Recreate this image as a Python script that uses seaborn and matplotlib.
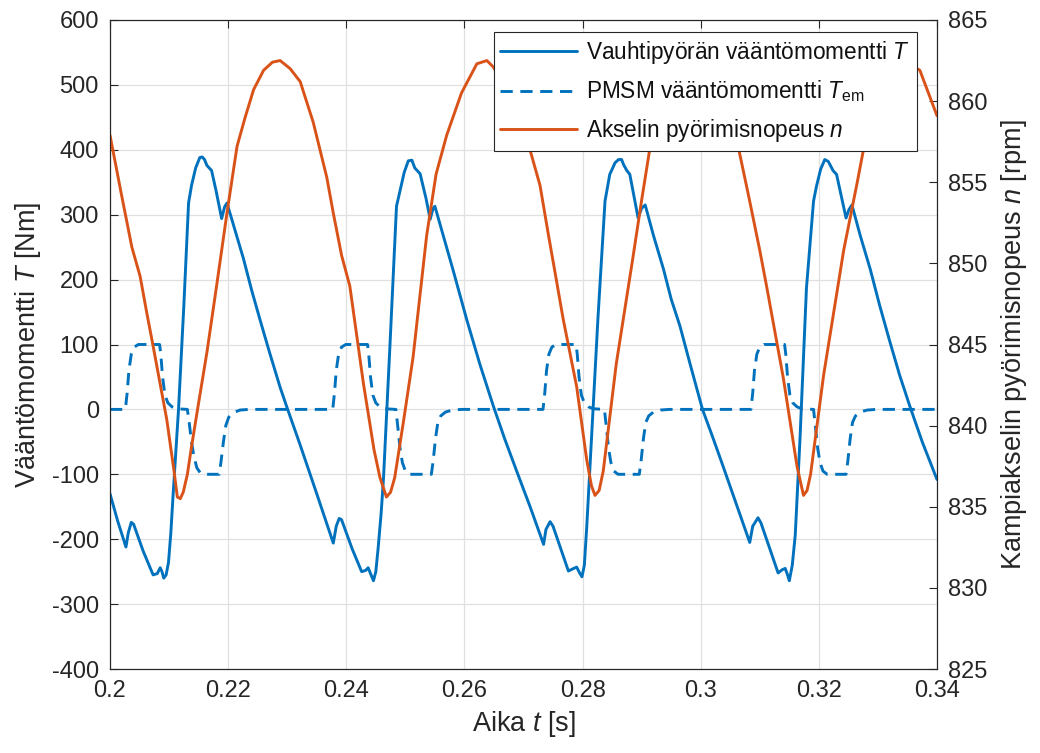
import numpy as np
import pandas as pd
import matplotlib
matplotlib.use("Agg")
import matplotlib.pyplot as plt
from matplotlib.ticker import FuncFormatter
import seaborn as sns

# ---------------- data ----------------
t_fly = [0.2000, 0.2013, 0.2027, 0.2031, 0.2036, 0.2040, 0.2056, 0.2073, 0.2080, 0.2085,
         0.2088, 0.2091, 0.2095, 0.2099, 0.2103, 0.2107, 0.2116, 0.2125, 0.2133, 0.2138,
         0.2145, 0.2152, 0.2156, 0.2160, 0.2164, 0.2168, 0.2172, 0.2180, 0.2189, 0.2194,
         0.2198, 0.2212, 0.2226, 0.2240, 0.2254, 0.2270, 0.2288, 0.2300, 0.2322, 0.2350,
         0.2378, 0.2383, 0.2388, 0.2392, 0.2410, 0.2426, 0.2433, 0.2437, 0.2442, 0.2446,
         0.2450, 0.2454, 0.2459, 0.2463, 0.2474, 0.2485, 0.2491, 0.2498, 0.2505, 0.2511,
         0.2516, 0.2525, 0.2535, 0.2542, 0.2547, 0.2550, 0.2565, 0.2581, 0.2604, 0.2626,
         0.2649, 0.2668, 0.2688, 0.2712, 0.2734, 0.2738, 0.2745, 0.2750, 0.2776, 0.2785,
         0.2790, 0.2795, 0.2799, 0.2803, 0.2807, 0.2815, 0.2826, 0.2838, 0.2846, 0.2855,
         0.2861, 0.2866, 0.2870, 0.2875, 0.2880, 0.2894, 0.2900, 0.2906, 0.2920, 0.2937,
         0.2950, 0.2965, 0.2982, 0.3003, 0.3020, 0.3038, 0.3060, 0.3083, 0.3088, 0.3097,
         0.3102, 0.3131, 0.3138, 0.3143, 0.3147, 0.3150, 0.3155, 0.3160, 0.3168, 0.3179,
         0.3191, 0.3196, 0.3203, 0.3210, 0.3216, 0.3220, 0.3224, 0.3230, 0.3246, 0.3251,
         0.3256, 0.3270, 0.3287, 0.3303, 0.3320, 0.3337, 0.3354, 0.3375, 0.3400]
T_fly = [-130, -172, -212, -190, -174, -177, -218, -255, -253, -244,
         -250, -260, -255, -236, -190, -129, 0, 160, 318, 345,
         372, 388, 389, 385, 376, 372, 368, 335, 294, 312,
         318, 275, 232, 183, 138, 88, 34, 2, -55, -130,
         -206, -180, -168, -170, -215, -250, -248, -244, -255, -264,
         -250, -213, -160, -106, 100, 313, 337, 365, 383, 384,
         372, 363, 325, 293, 310, 313, 265, 214, 138, 70,
         5, -45, -94, -152, -208, -185, -173, -180, -249, -245,
         -243, -252, -258, -240, -182, -47, 140, 321, 362, 380,
         385, 385, 376, 368, 362, 295, 310, 315, 268, 216,
         170, 128, 70, 0, -42, -88, -145, -205, -180, -167,
         -175, -252, -247, -245, -255, -264, -240, -194, -47, 187,
         321, 344, 370, 385, 382, 375, 368, 362, 295, 308,
         315, 268, 216, 160, 105, 52, 5, -50, -108]

t_em = [0.2000, 0.2026, 0.2029, 0.2032, 0.2036, 0.2041, 0.2048, 0.2084, 0.2086, 0.2089,
        0.2093, 0.2098, 0.2105, 0.2113, 0.2131, 0.2134, 0.2138, 0.2142, 0.2147, 0.2153,
        0.2160, 0.2185, 0.2188, 0.2192, 0.2196, 0.2201, 0.2209, 0.2220, 0.2235,
        0.2377, 0.2380, 0.2383, 0.2387, 0.2392, 0.2399, 0.2436, 0.2438, 0.2441, 0.2445,
        0.2450, 0.2457, 0.2465, 0.2484, 0.2487, 0.2491, 0.2495, 0.2500, 0.2507, 0.2544,
        0.2547, 0.2551, 0.2555, 0.2560, 0.2568, 0.2580, 0.2595,
        0.2733, 0.2736, 0.2739, 0.2743, 0.2748, 0.2755, 0.2789, 0.2791, 0.2794, 0.2798,
        0.2803, 0.2810, 0.2818, 0.2837, 0.2840, 0.2844, 0.2848, 0.2853, 0.2860, 0.2896,
        0.2899, 0.2903, 0.2907, 0.2912, 0.2920, 0.2932, 0.2947,
        0.3085, 0.3088, 0.3091, 0.3095, 0.3100, 0.3107, 0.3142, 0.3144, 0.3147, 0.3151,
        0.3156, 0.3163, 0.3171, 0.3191, 0.3194, 0.3198, 0.3202, 0.3207, 0.3214, 0.3246,
        0.3249, 0.3253, 0.3257, 0.3262, 0.3270, 0.3282, 0.3297, 0.3400]
T_em = [0, 0, 25, 60, 85, 96, 100, 100, 85, 50,
        22, 10, 4, 1, 0, -20, -50, -72, -90, -98,
        -100, -100, -80, -50, -25, -12, -5, -1, 0,
        0, 25, 60, 85, 96, 100, 100, 85, 50, 22,
        10, 4, 1, 0, -25, -60, -82, -95, -100, -100,
        -80, -45, -20, -10, -4, -1, 0,
        0, 25, 60, 85, 96, 100, 100, 85, 50, 22,
        10, 4, 1, 0, -25, -60, -82, -95, -100, -100,
        -80, -45, -20, -10, -4, -1, 0,
        0, 25, 60, 85, 96, 100, 100, 85, 50, 22,
        10, 4, 1, 0, -25, -60, -82, -95, -100, -100,
        -80, -45, -20, -10, -4, -1, 0, 0]

t_n = [0.2000, 0.2018, 0.2037, 0.2051, 0.2062, 0.2073, 0.2096, 0.2108, 0.2114, 0.2119,
       0.2124, 0.2131, 0.2138, 0.2150, 0.2164, 0.2180, 0.2198, 0.2215, 0.2228, 0.2243,
       0.2260, 0.2275, 0.2288, 0.2305, 0.2322, 0.2344, 0.2367, 0.2378, 0.2392, 0.2406,
       0.2429, 0.2447, 0.2457, 0.2468, 0.2475, 0.2482, 0.2497, 0.2513, 0.2536, 0.2552,
       0.2570, 0.2595, 0.2621, 0.2638, 0.2649, 0.2670, 0.2690, 0.2711, 0.2728, 0.2742,
       0.2756, 0.2767, 0.2790, 0.2807, 0.2815, 0.2821, 0.2828, 0.2835, 0.2857, 0.2885,
       0.2900, 0.2914, 0.2930, 0.2950, 0.2968, 0.2988, 0.3010, 0.3030, 0.3050, 0.3064,
       0.3082, 0.3100, 0.3112, 0.3140, 0.3163, 0.3174, 0.3180, 0.3186, 0.3208, 0.3242,
       0.3265, 0.3276, 0.3300, 0.3320, 0.3343, 0.3371, 0.3400]
n_speed = [857.9, 854.5, 851.0, 849.2, 847.0, 844.9, 840.4, 837.3, 835.6, 835.5,
           835.9, 837.0, 838.7, 841.4, 844.5, 848.5, 853.1, 857.2, 858.9, 860.7,
           861.9, 862.4, 862.5, 862.0, 861.2, 858.7, 855.3, 853.1, 850.5, 848.6,
           842.6, 838.5, 836.8, 835.6, 835.9, 836.8, 840.3, 844.2, 851.7, 855.5,
           857.9, 860.5, 862.3, 862.5, 862.1, 860.8, 859.2, 857.0, 854.8, 851.8,
           848.9, 846.6, 842.4, 837.9, 836.3, 835.7, 836.0, 837.2, 843.8, 850.3,
           853.9, 857.1, 859.9, 861.8, 862.4, 862.4, 861.5, 860.1, 858.4, 857.1,
           854.0, 850.8, 848.5, 842.9, 837.5, 835.7, 836.0, 837.0, 843.1, 850.8,
           855.0, 857.1, 860.4, 862.0, 862.5, 861.9, 859.1]

x_ticks = [0.2, 0.22, 0.24, 0.26, 0.28, 0.3, 0.32, 0.34]
yl_ticks = [-400, -300, -200, -100, 0, 100, 200, 300, 400, 500, 600]
yr_ticks = [825, 830, 835, 840, 845, 850, 855, 860, 865]

lab_fly = "Vauhtipyörän vääntömomentti $T$"
lab_em = "PMSM vääntömomentti $T_{\\mathrm{em}}$"
lab_n = "Akselin pyörimisnopeus $n$"

# ---------------- style ----------------
sns.set_theme(style="white")
plt.rcParams["font.family"] = ["Liberation Sans", "DejaVu Sans"]
plt.rcParams["mathtext.fontset"] = "custom"
plt.rcParams["mathtext.rm"] = "Liberation Sans"
plt.rcParams["mathtext.it"] = "Liberation Sans:italic"
plt.rcParams["mathtext.bf"] = "Liberation Sans:bold"
plt.rcParams["axes.unicode_minus"] = False

BLUE = "#0072BD"
ORANGE = "#D95319"
DARK = "#262626"
TICK_FS = 17
LABEL_FS = 19.5
LEG_FS = 16.3

fig = plt.figure(figsize=(10.4, 7.53), dpi=100)
ax = fig.add_axes([110 / 1040, 1 - 669 / 753, 827 / 1040, 649 / 753])
ax2 = ax.twinx()

df_fly = pd.DataFrame({"t": t_fly, "T": T_fly})
df_em = pd.DataFrame({"t": t_em, "T": T_em})
df_n = pd.DataFrame({"t": t_n, "n": n_speed})

sns.lineplot(data=df_fly, x="t", y="T", ax=ax, color=BLUE, linewidth=2.1,
             label=lab_fly, sort=False, estimator=None)
sns.lineplot(data=df_em, x="t", y="T", ax=ax, color=BLUE, linewidth=2.1,
             label=lab_em, sort=False, estimator=None)
ax.lines[1].set_dashes([4.2, 2.6])
sns.lineplot(data=df_n, x="t", y="n", ax=ax2, color=ORANGE, linewidth=2.1,
             label=lab_n, sort=False, estimator=None)

ax.set_xlim(0.2, 0.34)
ax.set_ylim(-400, 600)
ax2.set_ylim(825, 865)
ax.set_xticks(x_ticks)
ax.set_yticks(yl_ticks)
ax2.set_yticks(yr_ticks)
ax.xaxis.set_major_formatter(FuncFormatter(lambda v, p: f"{v:g}"))

ax.grid(True, color="#e0e0e0", linewidth=0.9)
ax.set_axisbelow(True)

ax.tick_params(axis="both", direction="in", length=6, width=0.8, colors=DARK,
               labelsize=TICK_FS, top=True, right=False, pad=8)
ax2.tick_params(axis="y", direction="in", length=6, width=0.8, colors=DARK,
                labelsize=TICK_FS, pad=8)
for a in (ax, ax2):
    for s in a.spines.values():
        s.set_color(DARK)
        s.set_linewidth(0.8)
        s.set_visible(True)

ax.set_xlabel("Aika $t$ [s]", fontsize=LABEL_FS, color=DARK, labelpad=5)
ax.set_ylabel("Vääntömomentti $T$ [Nm]", fontsize=LABEL_FS, color=DARK, labelpad=6)
ax2.set_ylabel("Kampiakselin pyörimisnopeus $n$ [rpm]", fontsize=LABEL_FS, color=DARK, labelpad=8)

# legend
h1, l1 = ax.get_legend_handles_labels()
h2, l2 = ax2.get_legend_handles_labels()
if ax.get_legend() is not None:
    ax.get_legend().remove()
if ax2.get_legend() is not None:
    ax2.get_legend().remove()
leg = ax2.legend(h1 + h2, l1 + l2, loc="upper right", bbox_to_anchor=(0.976, 0.981),
                 borderaxespad=0, fontsize=LEG_FS, frameon=True, fancybox=False,
                 edgecolor=DARK, framealpha=1, handlelength=3.4, handletextpad=0.4,
                 borderpad=0.3, labelspacing=0.55)
leg.get_frame().set_linewidth(0.8)
for txt in leg.get_texts():
    txt.set_color("#111111")

fig.savefig("out.png", dpi=100)
